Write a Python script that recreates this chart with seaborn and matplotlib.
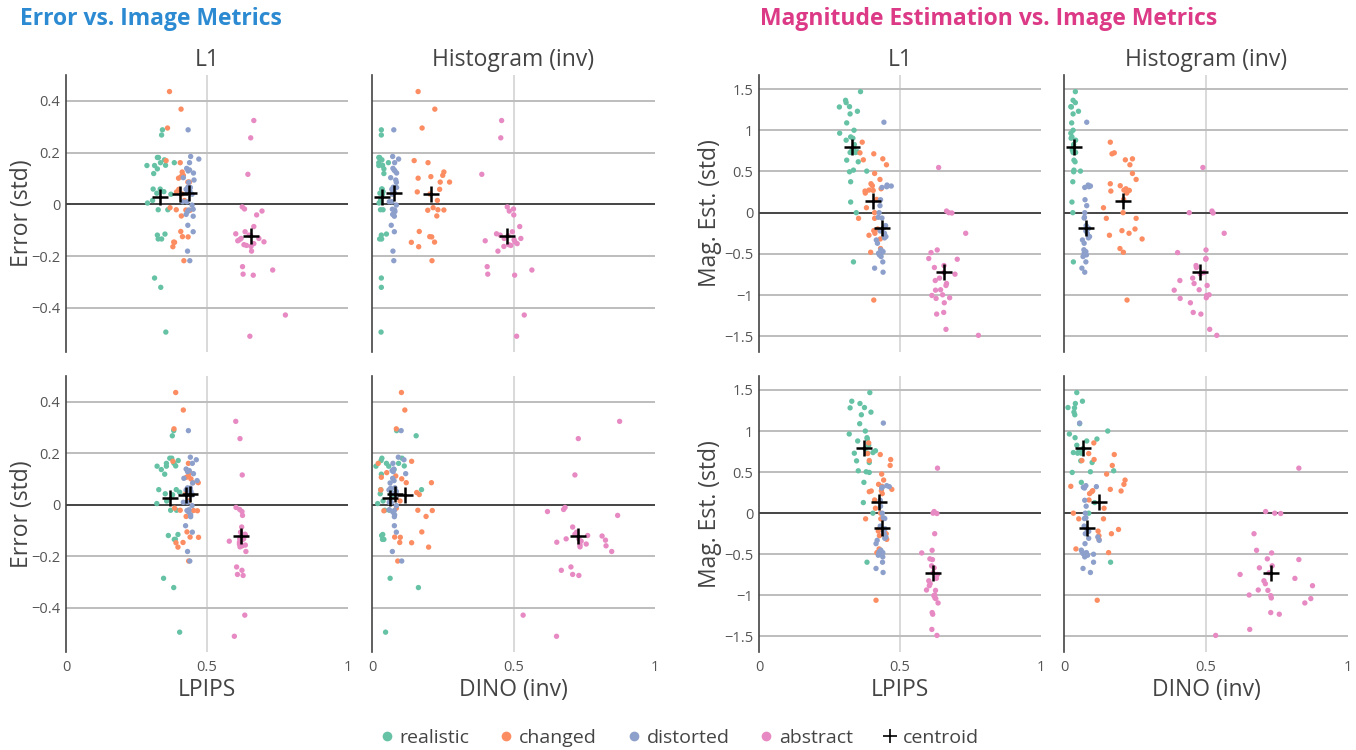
import pandas as pd
import numpy as np
import matplotlib.pyplot as plt
import seaborn as sns
from matplotlib.lines import Line2D

sns.set_style("white")
plt.rcParams["font.family"] = ["Open Sans", "DejaVu Sans"]

# ===========================
# DATA
# ===========================

CATS = ["realistic", "changed", "distorted", "abstract"]
PALETTE = {
    "realistic": "#66c2a5",
    "changed": "#fc8d62",
    "distorted": "#8da0cb",
    "abstract": "#e78ac3",
}

# error (std) per item, with the four image metrics of the same items
err_vals = {
    "realistic": [0.288, 0.268, 0.181, 0.181, 0.172, 0.161, 0.151, 0.161, 0.150, 0.150, 0.137, 0.119, 0.059, 0.059,
                  0.049, 0.043, 0.039, 0.015, 0.005, -0.021, -0.021, -0.119, -0.115, -0.134, -0.134, -0.285, -0.321, -0.494],
    "changed": [0.436, 0.368, 0.295, 0.169, 0.161, 0.125, 0.112, 0.107, 0.101, 0.086, 0.086, 0.058, 0.048, 0.040,
                0.015, -0.013, -0.021, -0.022, -0.023, -0.045, -0.105, -0.125, -0.126, -0.146, -0.147, -0.164, -0.218],
    "distorted": [0.288, 0.185, 0.175, 0.161, 0.139, 0.133, 0.129, 0.121, 0.103, 0.094, 0.085, 0.066, 0.065, 0.058,
                  0.052, 0.046, 0.039, 0.010, 0.010, -0.003, -0.019, -0.022, -0.028, -0.039, -0.046, -0.081, -0.106,
                  -0.181, -0.218],
    "abstract": [0.324, 0.257, 0.116, -0.010, -0.018, -0.026, -0.041, -0.086, -0.106, -0.114, -0.119, -0.121, -0.132,
                 -0.132, -0.137, -0.141, -0.145, -0.152, -0.156, -0.159, -0.163, -0.181, -0.241, -0.254, -0.270, -0.274,
                 -0.428, -0.510],
}
err_l1 = {
    "realistic": [0.342, 0.339, 0.324, 0.328, 0.349, 0.335, 0.353, 0.384, 0.287, 0.314, 0.324, 0.311, 0.309, 0.334,
                  0.347, 0.322, 0.372, 0.307, 0.289, 0.327, 0.361, 0.324, 0.351, 0.327, 0.339, 0.314, 0.336, 0.354],
    "changed": [0.367, 0.408, 0.360, 0.355, 0.405, 0.412, 0.416, 0.408, 0.399, 0.432, 0.438, 0.400, 0.392, 0.411,
                0.420, 0.369, 0.391, 0.425, 0.440, 0.409, 0.407, 0.413, 0.433, 0.382, 0.385, 0.379, 0.418],
    "distorted": [0.433, 0.442, 0.471, 0.438, 0.428, 0.438, 0.433, 0.452, 0.416, 0.454, 0.435, 0.432, 0.441, 0.426,
                  0.439, 0.431, 0.447, 0.414, 0.429, 0.447, 0.451, 0.435, 0.431, 0.426, 0.451, 0.432, 0.451, 0.431,
                  0.439],
    "abstract": [0.666, 0.655, 0.645, 0.625, 0.633, 0.695, 0.676, 0.666, 0.635, 0.602, 0.649, 0.655, 0.621, 0.684,
                 0.615, 0.609, 0.702, 0.666, 0.631, 0.640, 0.656, 0.658, 0.626, 0.733, 0.628, 0.664, 0.778, 0.652],
}
err_hist = {
    "realistic": [0.033, 0.033, 0.024, 0.027, 0.035, 0.024, 0.037, 0.058, 0.024, 0.037, 0.042, 0.042, 0.034, 0.036,
                  0.039, 0.028, 0.037, 0.030, 0.025, 0.030, 0.039, 0.033, 0.051, 0.027, 0.034, 0.033, 0.033, 0.032],
    "changed": [0.163, 0.222, 0.177, 0.149, 0.198, 0.254, 0.250, 0.208, 0.163, 0.241, 0.274, 0.239, 0.160, 0.205,
                0.231, 0.216, 0.233, 0.254, 0.197, 0.229, 0.167, 0.204, 0.211, 0.221, 0.139, 0.165, 0.212],
    "distorted": [0.077, 0.073, 0.094, 0.080, 0.074, 0.078, 0.081, 0.087, 0.066, 0.084, 0.086, 0.075, 0.087, 0.070,
                  0.074, 0.079, 0.072, 0.061, 0.070, 0.086, 0.072, 0.080, 0.081, 0.073, 0.079, 0.068, 0.079, 0.074,
                  0.077],
    "abstract": [0.458, 0.455, 0.388, 0.478, 0.500, 0.485, 0.501, 0.522, 0.496, 0.440, 0.453, 0.481, 0.467, 0.526,
                 0.502, 0.400, 0.505, 0.513, 0.483, 0.491, 0.466, 0.445, 0.407, 0.565, 0.409, 0.504, 0.538, 0.511],
}
err_lpips = {
    "realistic": [0.382, 0.377, 0.368, 0.375, 0.398, 0.383, 0.389, 0.356, 0.323, 0.356, 0.338, 0.350, 0.329, 0.391,
                  0.403, 0.352, 0.378, 0.357, 0.322, 0.371, 0.392, 0.363, 0.397, 0.384, 0.388, 0.346, 0.382, 0.403],
    "changed": [0.389, 0.416, 0.383, 0.379, 0.434, 0.440, 0.434, 0.427, 0.443, 0.450, 0.469, 0.440, 0.426, 0.430,
                0.435, 0.385, 0.405, 0.452, 0.466, 0.426, 0.429, 0.440, 0.470, 0.415, 0.390, 0.397, 0.435],
    "distorted": [0.434, 0.441, 0.462, 0.448, 0.426, 0.437, 0.431, 0.452, 0.418, 0.465, 0.449, 0.431, 0.441, 0.426,
                  0.443, 0.435, 0.449, 0.416, 0.430, 0.447, 0.436, 0.429, 0.435, 0.442, 0.442, 0.424, 0.448, 0.431,
                  0.439],
    "abstract": [0.602, 0.617, 0.625, 0.603, 0.616, 0.624, 0.626, 0.623, 0.619, 0.635, 0.636, 0.621, 0.616, 0.630,
                 0.623, 0.579, 0.615, 0.615, 0.636, 0.625, 0.617, 0.638, 0.605, 0.624, 0.608, 0.628, 0.634, 0.597],
}
err_dino = {
    "realistic": [0.087, 0.156, 0.035, 0.106, 0.032, 0.094, 0.114, 0.051, 0.014, 0.059, 0.078, 0.033, 0.175, 0.031,
                  0.068, 0.029, 0.074, 0.039, 0.020, 0.045, 0.061, 0.034, 0.038, 0.042, 0.037, 0.064, 0.164, 0.048],
    "changed": [0.104, 0.116, 0.086, 0.140, 0.022, 0.052, 0.084, 0.033, 0.105, 0.121, 0.210, 0.031, 0.158, 0.167,
                0.099, 0.086, 0.162, 0.213, 0.042, 0.191, 0.176, 0.080, 0.100, 0.098, 0.140, 0.200, 0.091],
    "distorted": [0.103, 0.093, 0.113, 0.074, 0.077, 0.071, 0.075, 0.119, 0.073, 0.078, 0.064, 0.081, 0.066, 0.060,
                  0.086, 0.071, 0.084, 0.061, 0.068, 0.086, 0.061, 0.079, 0.074, 0.080, 0.079, 0.079, 0.086, 0.072,
                  0.105],
    "abstract": [0.875, 0.729, 0.717, 0.682, 0.677, 0.620, 0.868, 0.709, 0.723, 0.717, 0.762, 0.813, 0.686, 0.731,
                 0.825, 0.739, 0.653, 0.757, 0.735, 0.827, 0.735, 0.847, 0.703, 0.669, 0.709, 0.731, 0.534, 0.652],
}

# magnitude estimation (std) per item, with the four image metrics
mag_vals = {
    "realistic": [1.468, 1.363, 1.335, 1.286, 1.282, 1.230, 1.198, 1.089, 1.000, 0.964, 0.919, 0.903, 0.879, 0.827,
                  0.786, 0.738, 0.730, 0.730, 0.637, 0.617, 0.516, 0.504, 0.496, 0.375, 0.129, 0.000, -0.597, 0.760],
    "changed": [0.855, 0.726, 0.714, 0.653, 0.641, 0.581, 0.476, 0.403, 0.351, 0.327, 0.290, 0.274, 0.270, 0.262,
                0.238, 0.161, 0.060, 0.000, -0.069, -0.069, -0.198, -0.218, -0.250, -0.274, -0.319, -0.435, -0.480,
                -1.060],
    "distorted": [1.097, 0.335, 0.323, 0.315, 0.306, 0.157, 0.085, 0.000, -0.056, -0.065, -0.157, -0.190, -0.222,
                  -0.250, -0.290, -0.306, -0.331, -0.371, -0.450, -0.472, -0.480, -0.492, -0.500, -0.512, -0.532,
                  -0.597, -0.673, -0.722],
    "abstract": [0.548, 0.020, 0.000, -0.004, -0.250, -0.452, -0.484, -0.556, -0.565, -0.641, -0.665, -0.726, -0.746,
                 -0.794, -0.823, -0.859, -0.883, -0.935, -0.940, -0.996, -1.004, -1.032, -1.040, -1.093, -1.210, -1.230,
                 -1.415, -1.488],
}
mag_l1 = {
    "realistic": [0.360, 0.307, 0.309, 0.321, 0.285, 0.349, 0.323, 0.311, 0.337, 0.286, 0.325, 0.333, 0.309, 0.338,
                  0.337, 0.349, 0.323, 0.342, 0.311, 0.352, 0.335, 0.382, 0.321, 0.325, 0.325, 0.345, 0.335, 0.330],
    "changed": [0.366, 0.358, 0.407, 0.439, 0.370, 0.452, 0.410, 0.429, 0.397, 0.402, 0.433, 0.390, 0.405, 0.376,
                0.377, 0.417, 0.381, 0.410, 0.353, 0.410, 0.421, 0.407, 0.411, 0.390, 0.430, 0.431, 0.396, 0.407],
    "distorted": [0.443, 0.454, 0.469, 0.453, 0.436, 0.431, 0.429, 0.426, 0.423, 0.436, 0.449, 0.440, 0.430, 0.445,
                  0.450, 0.445, 0.416, 0.420, 0.432, 0.440, 0.436, 0.424, 0.430, 0.427, 0.433, 0.439, 0.410, 0.440],
    "abstract": [0.637, 0.665, 0.673, 0.684, 0.733, 0.632, 0.610, 0.602, 0.703, 0.656, 0.622, 0.656, 0.695, 0.640,
                 0.625, 0.665, 0.663, 0.644, 0.626, 0.651, 0.613, 0.676, 0.628, 0.657, 0.655, 0.630, 0.663, 0.778],
}
mag_hist = {
    "realistic": [0.040, 0.032, 0.040, 0.024, 0.026, 0.051, 0.032, 0.027, 0.032, 0.024, 0.028, 0.025, 0.041, 0.034,
                  0.032, 0.038, 0.032, 0.041, 0.035, 0.039, 0.035, 0.058, 0.034, 0.031, 0.028, 0.031, 0.033, 0.029],
    "changed": [0.163, 0.177, 0.169, 0.241, 0.216, 0.232, 0.241, 0.254, 0.163, 0.198, 0.218, 0.211, 0.230, 0.165,
                0.221, 0.210, 0.139, 0.208, 0.149, 0.254, 0.250, 0.204, 0.229, 0.160, 0.275, 0.197, 0.209, 0.222],
    "distorted": [0.080, 0.085, 0.093, 0.088, 0.073, 0.074, 0.080, 0.073, 0.072, 0.071, 0.078, 0.087, 0.077, 0.082,
                  0.090, 0.086, 0.065, 0.071, 0.070, 0.077, 0.075, 0.071, 0.072, 0.079, 0.067, 0.077, 0.063, 0.073],
    "abstract": [0.489, 0.521, 0.441, 0.525, 0.564, 0.500, 0.400, 0.500, 0.499, 0.465, 0.466, 0.493, 0.480, 0.453,
                 0.408, 0.458, 0.504, 0.476, 0.388, 0.511, 0.502, 0.501, 0.409, 0.445, 0.455, 0.482, 0.513, 0.538],
}
mag_lpips = {
    "realistic": [0.393, 0.329, 0.358, 0.374, 0.323, 0.397, 0.363, 0.357, 0.377, 0.320, 0.383, 0.384, 0.350, 0.389,
                  0.376, 0.404, 0.338, 0.385, 0.346, 0.391, 0.352, 0.380, 0.391, 0.372, 0.370, 0.404, 0.383, 0.413],
    "changed": [0.389, 0.385, 0.430, 0.467, 0.391, 0.465, 0.435, 0.442, 0.424, 0.436, 0.471, 0.434, 0.398, 0.391,
                0.437, 0.410, 0.413, 0.431, 0.378, 0.432, 0.424, 0.423, 0.451, 0.427, 0.453, 0.426, 0.418, 0.415],
    "distorted": [0.441, 0.453, 0.462, 0.437, 0.435, 0.430, 0.431, 0.437, 0.441, 0.446, 0.430, 0.447, 0.441, 0.444,
                  0.450, 0.446, 0.419, 0.415, 0.432, 0.426, 0.439, 0.425, 0.433, 0.423, 0.439, 0.438, 0.415, 0.440],
    "abstract": [0.633, 0.621, 0.617, 0.631, 0.623, 0.614, 0.577, 0.606, 0.615, 0.612, 0.621, 0.617, 0.633, 0.629,
                 0.602, 0.607, 0.604, 0.594, 0.626, 0.623, 0.620, 0.624, 0.627, 0.635, 0.614, 0.616, 0.613, 0.631],
}
mag_dino = {
    "realistic": [0.045, 0.065, 0.040, 0.014, 0.037, 0.035, 0.038, 0.055, 0.154, 0.019, 0.039, 0.116, 0.080, 0.045,
                  0.067, 0.033, 0.048, 0.061, 0.059, 0.099, 0.175, 0.093, 0.029, 0.061, 0.108, 0.087, 0.164, 0.053],
    "changed": [0.105, 0.087, 0.177, 0.106, 0.063, 0.170, 0.150, 0.215, 0.211, 0.024, 0.163, 0.101, 0.201, 0.098,
                0.090, 0.088, 0.141, 0.033, 0.139, 0.052, 0.192, 0.120, 0.167, 0.123, 0.123, 0.042, 0.157, 0.117],
    "distorted": [0.055, 0.077, 0.114, 0.068, 0.072, 0.073, 0.078, 0.075, 0.077, 0.072, 0.071, 0.080, 0.087, 0.075,
                  0.119, 0.087, 0.124, 0.074, 0.061, 0.064, 0.079, 0.067, 0.104, 0.083, 0.073, 0.104, 0.067, 0.093],
    "abstract": [0.827, 0.710, 0.742, 0.763, 0.669, 0.678, 0.731, 0.716, 0.827, 0.733, 0.688, 0.722, 0.620, 0.813,
                 0.704, 0.709, 0.875, 0.684, 0.718, 0.652, 0.728, 0.730, 0.869, 0.848, 0.728, 0.758, 0.654, 0.534],
}

ROW_METRICS = [["L1", "Histogram (inv)"], ["LPIPS", "DINO (inv)"]]


def build_frame(yname, yvals, l1, hist, lpips, dino):
    rows = []
    for cat in CATS:
        part = pd.DataFrame({
            "Category": cat,
            yname: yvals[cat],
            "L1": l1[cat],
            "Histogram (inv)": hist[cat],
            "LPIPS": lpips[cat],
            "DINO (inv)": dino[cat],
        })
        rows.append(part)
    return pd.concat(rows, ignore_index=True)


err_df = build_frame("Error", err_vals, err_l1, err_hist, err_lpips, err_dino)
mag_df = build_frame("Mag", mag_vals, mag_l1, mag_hist, mag_lpips, mag_dino)

# ===========================
# FIGURE
# ===========================

W, H = 1356, 750
fig = plt.figure(figsize=(W / 100, H / 100), dpi=100)

TEXT = "#444444"
GRID = "#bdbdbd"


def px_axes(x0, x1, y0, y1):
    return fig.add_axes([x0 / W, 1 - y1 / H, (x1 - x0) / W, (y1 - y0) / H])


def draw_panel(ax, df, xcol, ycol, ylim, yticks, ylabels, show_y, show_x):
    ax.axvline(0.5, color="#d9d9d9", lw=1.4, zorder=1)
    for t in yticks:
        if t == 0:
            ax.axhline(0, color="#444444", lw=1.4, zorder=2)
        else:
            ax.axhline(t, color=GRID, lw=1.4, zorder=1)

    sns.scatterplot(
        data=df,
        x=xcol,
        y=ycol,
        hue="Category",
        hue_order=CATS,
        palette=PALETTE,
        s=15,
        linewidth=0,
        legend=False,
        ax=ax,
        zorder=3
    )

    cent = df.groupby("Category")[[xcol, ycol]].mean().reindex(CATS)
    ax.scatter(cent[xcol], cent[ycol], marker="+", s=120, color="black", linewidths=1.8, zorder=4)

    ax.set_xlim(0, 1)
    ax.set_ylim(*ylim)
    ax.set_xlabel("")
    ax.set_ylabel("")

    for side in ["top", "right", "bottom"]:
        ax.spines[side].set_visible(False)
    ax.spines["left"].set_color("#444444")
    ax.spines["left"].set_linewidth(1.2)

    ax.set_yticks(yticks)
    if show_y:
        ax.set_yticklabels(ylabels)
    else:
        ax.set_yticklabels([])
    ax.set_xticks([0, 0.5, 1])
    if show_x:
        ax.set_xticklabels(["0", "0.5", "1"])
    else:
        ax.set_xticklabels([])
    ax.tick_params(axis="y", length=3, color=GRID, pad=1, labelsize=10.5, labelcolor="#555555")
    ax.tick_params(axis="x", length=0, pad=6, labelsize=10.5, labelcolor="#555555")


ERR_TICKS = [-0.4, -0.2, 0, 0.2, 0.4]
ERR_LABELS = ["−0.4", "−0.2", "0", "0.2", "0.4"]
MAG_TICKS = [-1.5, -1, -0.5, 0, 0.5, 1, 1.5]
MAG_LABELS = ["−1.5", "−1", "−0.5", "0", "0.5", "1", "1.5"]

ROW_Y = [(75, 352), (376, 652)]
LEFT_X = [(66, 348), (372, 655)]
RIGHT_X = [(759, 1041), (1064, 1348)]

for r, (y0, y1) in enumerate(ROW_Y):
    for c in range(2):
        metric = ROW_METRICS[r][c]

        ax = px_axes(LEFT_X[c][0], LEFT_X[c][1], y0, y1)
        draw_panel(ax, err_df, metric, "Error", (-0.571, 0.5), ERR_TICKS, ERR_LABELS, c == 0, r == 1)

        ax = px_axes(RIGHT_X[c][0], RIGHT_X[c][1], y0, y1)
        draw_panel(ax, mag_df, metric, "Mag", (-1.69, 1.67), MAG_TICKS, MAG_LABELS, c == 0, r == 1)

# ===========================
# TEXT
# ===========================

fig.text(20 / W, 1 - 19 / H, "Error vs. Image Metrics", fontsize=16.5, fontweight="bold",
         color="#2b8ad1", ha="left", va="center")
fig.text(760 / W, 1 - 19 / H, "Magnitude Estimation vs. Image Metrics", fontsize=16.5, fontweight="bold",
         color="#dc3a86", ha="left", va="center")

for (x0, x1), name in zip(LEFT_X + RIGHT_X, ROW_METRICS[0] * 2):
    fig.text((x0 + x1) / 2 / W, 1 - 60 / H, name, fontsize=16.5, color=TEXT, ha="center", va="center")

for (x0, x1), name in zip(LEFT_X + RIGHT_X, ROW_METRICS[1] * 2):
    fig.text((x0 + x1) / 2 / W, 1 - 690 / H, name, fontsize=16.5, color=TEXT, ha="center", va="center")

for (y0, y1) in ROW_Y:
    fig.text(22 / W, 1 - (y0 + y1) / 2 / H, "Error (std)", fontsize=16.5, color=TEXT,
             rotation=90, ha="center", va="center")
    fig.text(710 / W, 1 - (y0 + y1) / 2 / H, "Mag. Est. (std)", fontsize=16.5, color=TEXT,
             rotation=90, ha="center", va="center")

# ===========================
# LEGEND
# ===========================

handles = [
    Line2D([], [], marker="o", linestyle="", markersize=7, markerfacecolor=PALETTE[c],
           markeredgewidth=0) for c in CATS
]
handles.append(Line2D([], [], marker="+", linestyle="", markersize=10, color="black", markeredgewidth=1.2))

fig.legend(
    handles,
    CATS + ["centroid"],
    loc="center",
    bbox_to_anchor=(0.5, 1 - 738 / H),
    ncol=5,
    frameon=False,
    fontsize=14,
    handletextpad=0.15,
    columnspacing=1.4,
    handlelength=1.0,
    labelcolor=TEXT
)

plt.savefig("out.png", dpi=100)
